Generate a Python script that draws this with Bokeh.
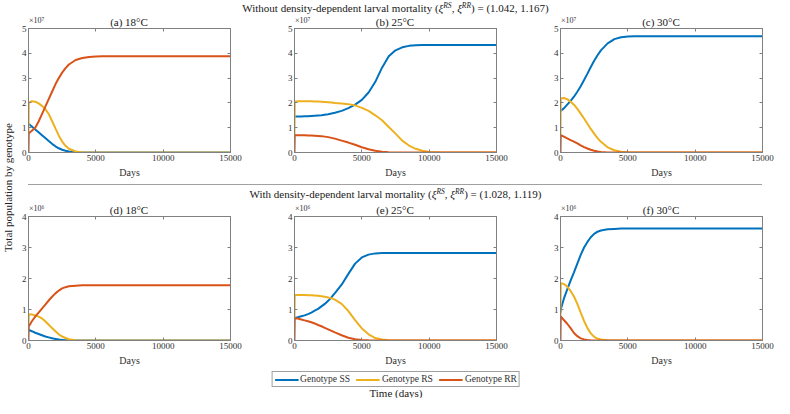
import math
from bokeh.plotting import figure
from bokeh.models import (Range1d, FixedTicker, LinearAxis, Label, Legend, LegendItem,
                          Div, CustomLabelingPolicy)
from bokeh.layouts import row, column
from bokeh.embed import file_html
from bokeh.resources import INLINE

FONT = "Liberation Serif"
C_SS = "#0072BD"
C_RS = "#EDB120"
C_RR = "#D95319"
AX = "#808080"
TXT = "#303030"

X_TICKS = [0, 5000, 10000, 15000]
Y_TICKS_TOP = [0, 1, 2, 3, 4, 5]
Y_TICKS_BOT = [0, 1, 2, 3, 4]

DAYS = [0, 20, 250, 500, 750, 1000, 1250, 1500, 1750, 2000, 2250, 2500, 2750,
        3000, 3500, 4000, 4500, 5000, 5500, 6000, 6500, 7000, 7500, 8000,
        8500, 9000, 9500, 10000, 11000, 12000, 13000, 14000, 15000]

# (a) 18 C, no density dependence (x 1e7)
SS_A = [1.16, 1.15, 1.05, 0.93, 0.82, 0.70, 0.58, 0.46, 0.35, 0.25, 0.17, 0.11, 0.07,
        0.04, 0.015, 0.005, 0, 0, 0, 0, 0, 0, 0, 0, 0, 0, 0, 0, 0, 0, 0, 0, 0]
RS_A = [0.78, 2.0, 2.07, 2.05, 1.98, 1.88, 1.75, 1.55, 1.27, 0.97, 0.68, 0.44, 0.27,
        0.15, 0.04, 0.01, 0.003, 0, 0, 0, 0, 0, 0, 0, 0, 0, 0, 0, 0, 0, 0, 0, 0]
RR_A = [0.0, 0.78, 0.88, 1.0, 1.25, 1.55, 1.85, 2.15, 2.45, 2.75, 3.0, 3.22, 3.4,
        3.55, 3.73, 3.81, 3.85, 3.87, 3.88, 3.88, 3.88, 3.88, 3.88, 3.88, 3.88, 3.88,
        3.88, 3.88, 3.88, 3.88, 3.88, 3.88, 3.88]
# (b) 25 C
SS_B = [1.45, 1.45, 1.45, 1.45, 1.46, 1.46, 1.47, 1.48, 1.49, 1.50, 1.52, 1.54, 1.57,
        1.60, 1.68, 1.79, 1.93, 2.12, 2.42, 2.85, 3.42, 3.88, 4.12, 4.24, 4.30, 4.32,
        4.33, 4.33, 4.33, 4.33, 4.33, 4.33, 4.33]
RS_B = [0.70, 2.05, 2.07, 2.07, 2.07, 2.07, 2.07, 2.06, 2.06, 2.05, 2.04, 2.03, 2.02,
        2.0, 1.98, 1.95, 1.9, 1.8, 1.68, 1.5, 1.3, 1.03, 0.76, 0.48, 0.28, 0.15,
        0.07, 0.025, 0.004, 0, 0, 0, 0]
RR_B = [0.0, 0.70, 0.70, 0.70, 0.70, 0.69, 0.69, 0.68, 0.67, 0.66, 0.64, 0.62, 0.59,
        0.56, 0.48, 0.40, 0.31, 0.21, 0.13, 0.07, 0.03, 0.01, 0.003, 0, 0, 0, 0, 0,
        0, 0, 0, 0, 0]
# (c) 30 C
SS_C = [1.66, 1.68, 1.78, 1.93, 2.08, 2.25, 2.45, 2.67, 2.92, 3.18, 3.45, 3.7, 3.92,
        4.12, 4.4, 4.57, 4.65, 4.68, 4.69, 4.69, 4.69, 4.69, 4.69, 4.69, 4.69, 4.69,
        4.69, 4.69, 4.69, 4.69, 4.69, 4.69, 4.69]
RS_C = [0.70, 2.18, 2.2, 2.15, 2.05, 1.93, 1.76, 1.57, 1.37, 1.16, 0.95, 0.76, 0.58,
        0.43, 0.21, 0.09, 0.03, 0.01, 0.003, 0, 0, 0, 0, 0, 0, 0, 0, 0, 0, 0, 0, 0, 0]
RR_C = [0.0, 0.70, 0.64, 0.57, 0.50, 0.44, 0.37, 0.29, 0.22, 0.16, 0.11, 0.07, 0.04,
        0.02, 0.005, 0, 0, 0, 0, 0, 0, 0, 0, 0, 0, 0, 0, 0, 0, 0, 0, 0, 0]
# (d) 18 C, density dependence (x 1e6)
SS_D = [0.35, 0.34, 0.30, 0.25, 0.21, 0.17, 0.13, 0.10, 0.07, 0.05, 0.03, 0.02, 0.01,
        0.005, 0, 0, 0, 0, 0, 0, 0, 0, 0, 0, 0, 0, 0, 0, 0, 0, 0, 0, 0]
RS_D = [0.45, 0.85, 0.84, 0.81, 0.77, 0.71, 0.62, 0.51, 0.40, 0.30, 0.20, 0.13, 0.08,
        0.04, 0.01, 0.002, 0, 0, 0, 0, 0, 0, 0, 0, 0, 0, 0, 0, 0, 0, 0, 0, 0]
RR_D = [0.0, 0.45, 0.62, 0.77, 0.90, 1.03, 1.16, 1.29, 1.41, 1.52, 1.61, 1.68, 1.72,
        1.75, 1.77, 1.78, 1.78, 1.78, 1.78, 1.78, 1.78, 1.78, 1.78, 1.78, 1.78, 1.78,
        1.78, 1.78, 1.78, 1.78, 1.78, 1.78, 1.78]
# (e) 25 C
SS_E = [0.73, 0.73, 0.75, 0.78, 0.81, 0.85, 0.90, 0.96, 1.02, 1.10, 1.18, 1.28, 1.40,
        1.53, 1.80, 2.15, 2.48, 2.68, 2.77, 2.81, 2.82, 2.82, 2.82, 2.82, 2.82, 2.82,
        2.82, 2.82, 2.82, 2.82, 2.82, 2.82, 2.82]
RS_E = [0.73, 1.47, 1.47, 1.47, 1.47, 1.46, 1.46, 1.45, 1.44, 1.43, 1.41, 1.39, 1.36,
        1.32, 1.18, 0.95, 0.66, 0.39, 0.20, 0.08, 0.03, 0.01, 0.003, 0, 0, 0, 0, 0,
        0, 0, 0, 0, 0]
RR_E = [0.0, 0.72, 0.71, 0.68, 0.65, 0.62, 0.59, 0.55, 0.50, 0.46, 0.41, 0.36, 0.31,
        0.26, 0.17, 0.09, 0.04, 0.015, 0.005, 0, 0, 0, 0, 0, 0, 0, 0, 0, 0, 0, 0, 0, 0]
# (f) 30 C
SS_F = [0.90, 1.0, 1.35, 1.65, 1.93, 2.20, 2.48, 2.76, 3.0, 3.18, 3.33, 3.44, 3.51,
        3.55, 3.59, 3.60, 3.61, 3.61, 3.61, 3.61, 3.61, 3.61, 3.61, 3.61, 3.61, 3.61,
        3.61, 3.61, 3.61, 3.61, 3.61, 3.61, 3.61]
RS_F = [0.80, 1.85, 1.82, 1.74, 1.60, 1.42, 1.18, 0.90, 0.63, 0.40, 0.23, 0.12, 0.06,
        0.03, 0.008, 0, 0, 0, 0, 0, 0, 0, 0, 0, 0, 0, 0, 0, 0, 0, 0, 0, 0]
RR_F = [0.0, 0.78, 0.66, 0.54, 0.40, 0.24, 0.14, 0.07, 0.035, 0.015, 0.006, 0.002, 0,
        0, 0, 0, 0, 0, 0, 0, 0, 0, 0, 0, 0, 0, 0, 0, 0, 0, 0, 0, 0]

TITLES_TOP = ["(a) 18°C", "(b) 25°C", "(c) 30°C"]
TITLES_BOT = ["(d) 18°C", "(e) 25°C", "(f) 30°C"]
EXP_TOP = "×10⁷"
EXP_BOT = "×10⁶"
LEGEND_LABELS = ["Genotype SS", "Genotype RS", "Genotype RR"]

YLAB_W = 17
FRAME_W = 202
FRAME_H = 127
TOP_B = 5
BOT_B = 25
LEFT_B = [11, 12, 12]
RIGHT_B = [52, 52, 12]
BODY_W = sum(LEFT_B) + sum(RIGHT_B) + 3 * FRAME_W

HIDE_LABELS = CustomLabelingPolicy(code="return new Set()")


def style_axis(ax, labels=True):
    ax.axis_line_color = AX
    ax.major_tick_line_color = AX
    ax.minor_tick_line_color = None
    ax.major_tick_in = 3
    ax.major_tick_out = 0
    ax.major_label_text_font = FONT
    ax.major_label_text_color = TXT
    if labels:
        ax.major_label_text_font_size = "9px"
        ax.major_label_standoff = 2
    else:
        ax.major_label_text_font_size = "1px"
        ax.major_label_standoff = 0
        ax.major_label_policy = HIDE_LABELS


def make_panel(col_i, ss, rs, rr, ymax, yticks):
    lb, rb = LEFT_B[col_i], RIGHT_B[col_i]
    p = figure(width=lb + FRAME_W + rb, height=TOP_B + FRAME_H + BOT_B,
               x_range=Range1d(0, 15000), y_range=Range1d(0, ymax),
               output_backend="svg", toolbar_location=None, tools="",
               min_border_left=lb, min_border_right=rb,
               min_border_top=TOP_B, min_border_bottom=BOT_B)
    p.xgrid.visible = False
    p.ygrid.visible = False
    p.outline_line_color = AX
    p.background_fill_color = "white"
    p.border_fill_alpha = 0.0
    for vals, col in ((ss, C_SS), (rs, C_RS), (rr, C_RR)):
        p.line(DAYS, vals, line_color=col, line_width=2)
    p.xaxis.ticker = FixedTicker(ticks=X_TICKS)
    p.yaxis.ticker = FixedTicker(ticks=yticks)
    for ax in p.xaxis:
        style_axis(ax)
        ax.axis_label = "Days"
        ax.axis_label_text_font = FONT
        ax.axis_label_text_font_style = "normal"
        ax.axis_label_text_font_size = "10px"
        ax.axis_label_text_color = TXT
        ax.axis_label_standoff = 3
    for ax in p.yaxis:
        style_axis(ax)
    top = LinearAxis(ticker=FixedTicker(ticks=X_TICKS))
    style_axis(top, labels=False)
    p.add_layout(top, "above")
    right = LinearAxis(ticker=FixedTicker(ticks=yticks))
    style_axis(right, labels=False)
    p.add_layout(right, "right")
    return p


fa = make_panel(0, SS_A, RS_A, RR_A, 5, Y_TICKS_TOP)
fb = make_panel(1, SS_B, RS_B, RR_B, 5, Y_TICKS_TOP)
fc = make_panel(2, SS_C, RS_C, RR_C, 5, Y_TICKS_TOP)
fd = make_panel(0, SS_D, RS_D, RR_D, 4, Y_TICKS_BOT)
fe = make_panel(1, SS_E, RS_E, RR_E, 4, Y_TICKS_BOT)
ff = make_panel(2, SS_F, RS_F, RR_F, 4, Y_TICKS_BOT)

SUP = "font-size:7.5px;vertical-align:4px;line-height:0;"
TSTYLE = (f"font-family:'{FONT}';font-size:11px;text-align:center;"
          f"color:#202020;white-space:nowrap;width:{BODY_W}px;")


def panel_title_row(titles, exp):
    spans = []
    x0 = 0
    for i, t in enumerate(titles):
        fl = x0 + LEFT_B[i]
        cx = fl + FRAME_W / 2
        spans.append(
            f'<span style="position:absolute;left:{cx - 50:.1f}px;width:100px;text-align:center;'
            f'bottom:0px;font-size:11px;line-height:11px;color:#202020;">{t}</span>')
        spans.append(
            f'<span style="position:absolute;left:{fl + 1}px;bottom:3px;font-size:8px;'
            f'line-height:8px;color:{TXT};">{exp}</span>')
        x0 += LEFT_B[i] + FRAME_W + RIGHT_B[i]
    html = (f'<div style="position:relative;width:{BODY_W}px;height:12px;'
            f"font-family:'{FONT}';white-space:nowrap;\">" + "".join(spans) + "</div>")
    return Div(width=BODY_W, height=12, margin=0, text=html,
               styles={"transform": "translateY(5px)", "z-index": "5",
                       "overflow": "visible"})


head1 = Div(width=BODY_W, height=11, margin=0, text=(
    f'<div style="{TSTYLE}line-height:11px;">Without density-dependent larval mortality '
    f'(<i>ξ</i><sup style="{SUP}"><i>RS</i></sup>, <i>ξ</i><sup style="{SUP}"><i>RR</i></sup>)'
    f' = (1.042, 1.167)</div>'))

SEP_W = 2 * FRAME_W + LEFT_B[1] + LEFT_B[2] + RIGHT_B[0] + RIGHT_B[1] + FRAME_W
head2 = Div(width=BODY_W, height=19, margin=0, text=(
    f'<div style="margin:4px 0 0 {LEFT_B[0]}px;width:{SEP_W}px;height:0;'
    'border-top:1px solid #a0a0a0;"></div>'
    f'<div style="{TSTYLE}line-height:12px;margin-top:3px;">With density-dependent larval mortality '
    f'(<i>ξ</i><sup style="{SUP}"><i>RS</i></sup>, <i>ξ</i><sup style="{SUP}"><i>RR</i></sup>)'
    f' = (1.028, 1.119)</div>'))

tr1 = panel_title_row(TITLES_TOP, EXP_TOP)
tr2 = panel_title_row(TITLES_BOT, EXP_BOT)

# legend + common x label (legend lines come from off-range copies of panel (e))
lf = figure(width=BODY_W, height=30, x_range=Range1d(-2, -1), y_range=Range1d(0, 1),
            output_backend="svg", toolbar_location=None, tools="",
            x_axis_type=None, y_axis_type=None, min_border=0)
lf.outline_line_color = None
lf.xgrid.visible = False
lf.ygrid.visible = False
rends = []
for vals, col in ((SS_E, C_SS), (RS_E, C_RS), (RR_E, C_RR)):
    rends.append(lf.line(DAYS, vals, line_color=col, line_width=2))
legend = Legend(items=[LegendItem(label=lab, renderers=[r]) for lab, r in zip(LEGEND_LABELS, rends)],
                orientation="horizontal", location="top_center", margin=3, padding=2,
                spacing=6, glyph_width=24, glyph_height=9, label_standoff=2,
                label_height=9, label_text_font=FONT, label_text_font_size="9.5px",
                label_text_color=TXT, border_line_color="#404040", border_line_width=1,
                background_fill_color="white", background_fill_alpha=1.0)
lf.add_layout(legend)
lf.add_layout(Label(x=-1.5, y=0.2, text="Time (days)", text_align="center",
                    text_baseline="middle", text_font=FONT, text_font_size="11px",
                    text_color="#202020"))

# common y label
yf = figure(width=YLAB_W, height=398, x_range=Range1d(0, 1), y_range=Range1d(0, 1),
            output_backend="svg", toolbar_location=None, tools="",
            x_axis_type=None, y_axis_type=None, min_border=0)
yf.outline_line_color = None
yf.xgrid.visible = False
yf.ygrid.visible = False
yf.add_layout(Label(x=0.45, y=0.53, text="Total population by genotype", angle=math.pi / 2,
                    text_align="center", text_baseline="middle", text_font=FONT,
                    text_font_size="11px", text_color="#202020"))

body = column(head1, tr1, row(fa, fb, fc), head2, tr2, row(fd, fe, ff), lf)
layout = row(yf, body)

open("out.html", "w").write(file_html(layout, INLINE))
